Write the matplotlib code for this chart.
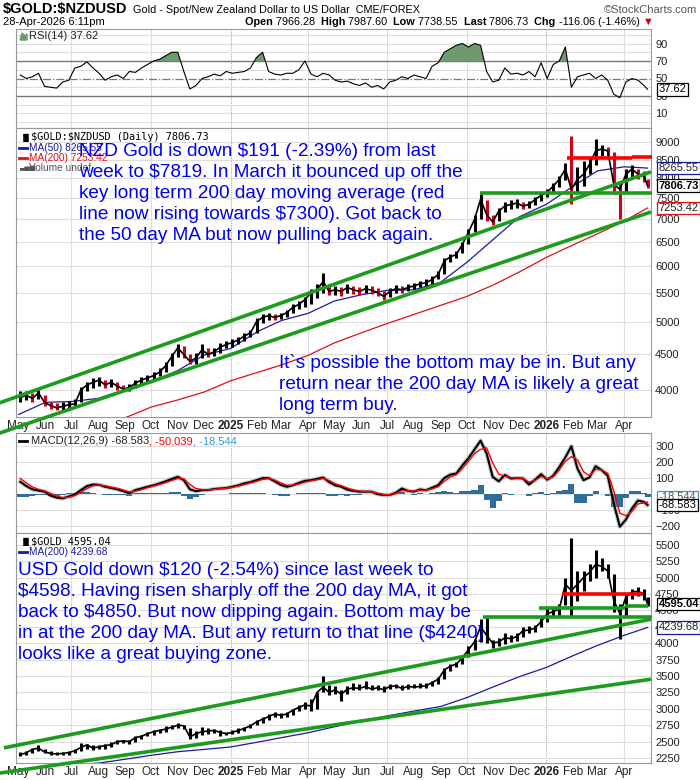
import numpy as np
import pandas as pd
import matplotlib
matplotlib.use("Agg")
import matplotlib.pyplot as plt
from matplotlib.transforms import blended_transform_factory

# ---- data (weekly bars + last session) ----
week_dates = list(pd.date_range("2024-05-03", periods=104, freq="7D")) + [pd.Timestamp("2026-04-28")]
month_dates = list(pd.date_range("2024-05-01", "2026-04-01", freq="MS")) + [pd.Timestamp("2026-04-28")]

nzd_close = [3900, 3930, 3890, 3960, 3840, 3800, 3770, 3790, 3810, 3820,
             4000, 4065, 4100, 4130, 4065, 4100, 4050, 4010, 4030, 4090,
             4130, 4160, 4190, 4240, 4330, 4460, 4590, 4490, 4390, 4440,
             4560, 4490, 4530, 4600, 4640, 4670, 4710, 4770, 4820, 5000,
             5070, 5100, 5070, 5100, 5150, 5240, 5290, 5375, 5500, 5550,
             5700, 5520, 5550, 5520, 5590, 5550, 5520, 5570, 5540, 5500,
             5430, 5520, 5570, 5550, 5590, 5620, 5660, 5680, 5740, 5835,
             6100, 6180, 6230, 6440, 6700, 6990, 7460, 7100, 6930, 7180,
             7300, 7340, 7370, 7300, 7340, 7460, 7560, 7640, 7790, 7970,
             8240, 7710, 7970, 8100, 8370, 8740, 8800, 8740, 7840, 7710,
             8100, 8240, 8100, 8040, 7806.73]
nzd_high = [3980, 3990, 3960, 4000, 3930, 3850, 3830, 3850, 3860, 3880,
            4040, 4100, 4160, 4170, 4130, 4140, 4110, 4070, 4080, 4130,
            4170, 4200, 4240, 4290, 4380, 4520, 4650, 4620, 4500, 4520,
            4650, 4580, 4580, 4660, 4690, 4720, 4760, 4820, 4870, 5060,
            5130, 5150, 5130, 5150, 5200, 5290, 5350, 5420, 5560, 5650,
            5870, 5650, 5620, 5600, 5650, 5620, 5600, 5630, 5610, 5580,
            5520, 5580, 5630, 5620, 5650, 5680, 5720, 5740, 5800, 5900,
            6150, 6240, 6300, 6500, 6780, 7100, 7590, 7450, 7100, 7250,
            7400, 7440, 7460, 7400, 7420, 7520, 7630, 7720, 7860, 8050,
            8400, 9180, 8300, 8450, 8550, 9090, 8900, 8850, 8700, 7900,
            8250, 8350, 8250, 8200, 7987.60]
nzd_low = [3850, 3870, 3850, 3880, 3800, 3760, 3740, 3750, 3770, 3780,
           3840, 3990, 4030, 4050, 4020, 4040, 4000, 3980, 3990, 4030,
           4080, 4110, 4140, 4180, 4240, 4330, 4450, 4440, 4350, 4360,
           4440, 4450, 4470, 4520, 4580, 4600, 4650, 4700, 4750, 4820,
           4980, 5030, 5020, 5040, 5080, 5150, 5220, 5250, 5300, 5400,
           5500, 5450, 5460, 5430, 5500, 5480, 5460, 5490, 5470, 5440,
           5360, 5420, 5500, 5490, 5520, 5560, 5600, 5620, 5660, 5740,
           5850, 6080, 6150, 6250, 6450, 6700, 7000, 6950, 6850, 6950,
           7150, 7220, 7260, 7220, 7250, 7330, 7430, 7520, 7620, 7760,
           7950, 7340, 7650, 7800, 8100, 8350, 8600, 8550, 7600, 6990,
           7650, 8000, 7980, 7900, 7738.55]
nzd_ma50 = [3690, 3840, 3850, 3890, 4000, 4110, 4260, 4480, 4580, 4840, 5020, 5140,
            5350, 5460, 5540, 5550, 5690, 6070, 6550, 7050, 7340, 7790, 8190, 8300, 8265.55]
nzd_ma200 = [3380, 3450, 3520, 3600, 3650, 3780, 3870, 3970, 4120, 4235, 4340, 4480,
             4665, 4820, 4970, 5120, 5275, 5430, 5640, 5885, 6170, 6430, 6665, 6950, 7253.42]

rsi = [54, 50, 52, 56, 41, 40, 39, 46, 48, 62,
       64, 69, 62, 56, 48, 52, 54, 50, 58, 57,
       62, 66, 70, 72, 76, 80, 80, 58, 38, 42,
       50, 52, 55, 53, 58, 56, 57, 58, 62, 74,
       80, 58, 55, 54, 56, 56, 60, 70, 55, 52,
       56, 54, 48, 46, 47, 44, 42, 45, 40, 42,
       38, 46, 48, 52, 50, 54, 52, 50, 64, 68,
       80, 84, 88, 90, 86, 90, 88, 58, 46, 48,
       62, 55, 56, 54, 58, 52, 68, 50, 66, 70,
       86, 40, 52, 54, 56, 50, 54, 48, 32, 28,
       46, 50, 48, 42, 37.62]

macd = [77, 50, 30, 22, 15, -10, -22, -27, -15, -2,
        25, 50, 60, 58, 46, 38, 30, 18, 5, 25,
        35, 46, 55, 67, 80, 95, 108, 87, 30, 18,
        25, 25, 32, 35, 38, 46, 55, 67, 75, 87,
        100, 100, 80, 58, 46, 55, 70, 83, 87, 95,
        104, 75, 55, 46, 28, 20, 15, 15, 15, 0,
        -6, -6, 8, 35, 20, 15, 29, 24, 40, 56,
        100, 122, 129, 180, 225, 280, 335, 254, 108, 80,
        120, 98, 100, 98, 60, 90, 125, 90, 115, 170,
        230, 300, 160, 87, 105, 175, 150, 115, -60, -204,
        -160, -90, -40, -50, -68.583]
macd_signal = [98, 70, 45, 30, 20, 5, -12, -22, -20, -10,
               10, 35, 52, 57, 52, 44, 36, 26, 14, 18,
               28, 40, 50, 60, 72, 85, 98, 96, 60, 35,
               28, 26, 30, 33, 36, 42, 50, 60, 70, 80,
               92, 98, 88, 70, 55, 55, 63, 75, 83, 90,
               98, 85, 65, 52, 38, 26, 19, 16, 15, 6,
               -2, -5, 3, 22, 22, 18, 24, 24, 33, 46,
               80, 108, 122, 160, 205, 255, 280, 290, 195, 125,
               112, 103, 100, 99, 75, 85, 110, 98, 108, 150,
               205, 235, 215, 140, 115, 155, 152, 130, 20, -120,
               -135, -110, -62, -55, -50.039]
macd_hist = [-21, -20, -15, -8, -5, -15, -10, -5, 5, 8,
             15, 15, 8, 1, -6, -6, -6, -8, -9, 7,
             7, 6, 5, 7, 8, 10, 10, -9, -30, -17,
             -3, -1, 2, 2, 2, 4, 5, 7, 5, 7,
             8, 2, -8, -12, -9, 0, 7, 8, 4, 5,
             6, -10, -10, -6, -10, -6, -4, -1, 0, -6,
             -4, -1, 5, 13, -2, -3, 5, 0, 7, 10,
             20, 14, 7, 20, 20, 25, 55, -36, -87, -45,
             8, -5, 0, -1, -15, 5, 15, -8, 7, 20,
             25, 65, -55, -53, -10, 20, -2, -15, -80, -84,
             -25, 20, 22, 5, -18.544]

usd_close = [2300, 2330, 2380, 2400, 2340, 2320, 2310, 2320, 2330, 2360,
             2410, 2450, 2400, 2420, 2440, 2450, 2500, 2510, 2500, 2560,
             2580, 2620, 2650, 2670, 2690, 2720, 2750, 2740, 2570, 2620,
             2650, 2660, 2670, 2640, 2620, 2640, 2670, 2700, 2740, 2800,
             2840, 2880, 2920, 2900, 2920, 2980, 3020, 3060, 3040, 3250,
             3330, 3250, 3290, 3220, 3300, 3320, 3310, 3340, 3300, 3320,
             3290, 3340, 3350, 3310, 3340, 3330, 3340, 3350, 3400, 3450,
             3590, 3650, 3680, 3780, 3900, 4020, 4250, 4120, 4000, 4020,
             4080, 4070, 4100, 4190, 4200, 4230, 4330, 4450, 4480, 4520,
             4900, 4800, 4900, 5000, 5080, 5200, 5170, 5100, 4650, 4450,
             4700, 4780, 4790, 4750, 4595.04]
usd_high = [2340, 2350, 2400, 2450, 2380, 2350, 2340, 2345, 2360, 2390,
            2480, 2470, 2440, 2450, 2470, 2490, 2530, 2530, 2520, 2580,
            2600, 2640, 2670, 2690, 2730, 2760, 2790, 2760, 2700, 2660,
            2720, 2700, 2690, 2670, 2650, 2670, 2700, 2720, 2770, 2830,
            2880, 2920, 2950, 2940, 2950, 3000, 3050, 3100, 3150, 3260,
            3500, 3360, 3350, 3280, 3340, 3400, 3370, 3420, 3360, 3360,
            3340, 3380, 3380, 3360, 3370, 3380, 3400, 3400, 3430, 3480,
            3620, 3680, 3720, 3810, 3950, 4070, 4370, 4380, 4050, 4080,
            4150, 4130, 4150, 4250, 4260, 4280, 4380, 4530, 4550, 4600,
            5000, 5600, 5100, 5100, 5200, 5420, 5300, 5200, 5050, 4600,
            4760, 4830, 4850, 4820, 4700]
usd_low = [2280, 2290, 2330, 2350, 2320, 2290, 2290, 2295, 2300, 2320,
           2360, 2390, 2370, 2390, 2380, 2410, 2460, 2480, 2470, 2500,
           2540, 2580, 2600, 2630, 2650, 2690, 2700, 2690, 2540, 2560,
           2600, 2620, 2630, 2590, 2600, 2610, 2630, 2660, 2700, 2750,
           2780, 2830, 2870, 2860, 2880, 2900, 2960, 2990, 2970, 3000,
           3250, 3210, 3230, 3120, 3220, 3280, 3290, 3300, 3280, 3290,
           3260, 3300, 3320, 3290, 3300, 3310, 3310, 3320, 3340, 3380,
           3450, 3580, 3630, 3680, 3790, 3900, 4020, 4000, 3930, 3950,
           3990, 4020, 4040, 4100, 4150, 4170, 4250, 4320, 4400, 4420,
           4580, 4420, 4650, 4800, 4950, 5000, 5100, 4990, 4480, 4065,
           4400, 4680, 4720, 4660, 4570]
usd_ma200 = [2080, 2120, 2150, 2170, 2230, 2290, 2345, 2380, 2417, 2490, 2560, 2635,
             2725, 2810, 2890, 2965, 3035, 3170, 3335, 3490, 3630, 3810, 3965, 4120, 4239.68]

# hand-drawn annotation lines: (start date, start price, end date, end price)
nzd_green = [("2024-04-09", 3833, "2026-05-02", 8165),
             ("2024-04-09", 3472, "2026-05-02", 7160),
             ("2025-10-16", 7610, "2026-05-03", 7610)]
nzd_red = [("2026-01-25", 8540, "2026-04-10", 8540),
           ("2026-04-10", 8560, "2026-05-03", 8560)]
usd_green = [("2024-04-14", 2404, "2026-05-02", 4366),
             ("2024-04-09", 2019, "2026-05-02", 3450),
             ("2025-10-20", 4403, "2026-05-03", 4403),
             ("2025-12-23", 4540, "2026-04-02", 4540),
             ("2026-04-02", 4560, "2026-04-28", 4560)]
usd_red = [("2026-01-19", 4745, "2026-04-23", 4745)]

nzd_note = ("NZD Gold is down $191 (-2.39%) from last\n"
            "week to $7819. In March it bounced up off the\n"
            "key long term 200 day moving average (red\n"
            "line now rising towards $7300). Got back to\n"
            "the 50 day MA but now pulling back again.")
nzd_note2 = ("It`s possible the bottom may be in. But any\n"
             "return near the 200 day MA is likely a great\n"
             "long term buy.")
usd_note = ("USD Gold down $120 (-2.54%) since last week to\n"
            "$4598. Having risen sharply off the 200 day MA, it got\n"
            "back to $4850. But now dipping again. Bottom may be\n"
            "in at the 200 day MA. But any return to that line ($4240)\n"
            "looks like a great buying zone.")

# ---- figure ----
W, H = 700, 780
plt.rcParams["font.family"] = ["Liberation Sans", "DejaVu Sans"]
plt.rcParams["text.parse_math"] = False
fig = plt.figure(figsize=(7, 7.8), dpi=100)


def box(left, top, right, bottom):
    return [left / W, 1 - bottom / H, (right - left) / W, (bottom - top) / H]


def fx(px):
    return px / W


def fy(py):
    return 1 - py / H


ax_rsi = fig.add_axes(box(16, 29, 651, 128))
ax_nzd = fig.add_axes(box(16, 128, 651, 417))
ax_macd = fig.add_axes(box(16, 433, 651, 533))
ax_usd = fig.add_axes(box(16, 533, 651, 763))
axes = [ax_rsi, ax_nzd, ax_macd, ax_usd]

xmin, xmax = pd.Timestamp("2024-04-28"), pd.Timestamp("2026-05-02")
quarters = pd.date_range("2024-07-01", "2026-04-01", freq="QS")
month_starts = pd.date_range("2024-05-01", "2026-04-01", freq="MS")
month_labels = [str(d.year) if d.month == 1 else d.strftime("%b") for d in month_starts]
GRID = "#dddddd"
GREEN = "#1c9c1c"
BLUE_TXT = "#0000ee"

for ax in axes:
    ax.set_xlim(xmin, xmax)
    ax.yaxis.tick_right()
    ax.tick_params(axis="y", length=0, pad=3, labelsize=8, labelcolor="#222222")
    for s in ax.spines.values():
        s.set_color("#999999")
        s.set_linewidth(0.8)
    for q in quarters:
        if q.month == 1:
            ax.axvline(q, color="#aaaaaa", lw=0.8, ls=(0, (1, 1)), zorder=0)
        else:
            ax.axvline(q, color=GRID, lw=0.8, zorder=0)

for ax in (ax_rsi, ax_macd):
    ax.set_xticks([])
for ax in (ax_nzd, ax_usd):
    ax.set_xticks(month_starts)
    ax.set_xticklabels(month_labels, fontsize=8.5)
    for lab, d in zip(ax.get_xticklabels(), month_starts):
        if d.month == 1:
            lab.set_fontweight("bold")
    ax.tick_params(axis="x", length=0, pad=2, colors="#222222")


def tag(ax, y, text, edge, color="black", weight="normal"):
    tr = blended_transform_factory(ax.transAxes, ax.transData)
    ax.text(1.012, y, text, transform=tr, ha="left", va="center", fontsize=8,
            color=color, fontweight=weight, clip_on=False, zorder=10,
            bbox=dict(boxstyle="square,pad=0.12", fc="white", ec=edge, lw=0.9))


def draw_lines(ax, lines, color):
    for d0, p0, d1, p1 in lines:
        ax.plot([pd.Timestamp(d0), pd.Timestamp(d1)], [p0, p1], color=color,
                lw=2.6, solid_capstyle="butt", clip_on=False, zorder=5)


def price_bars(ax, close, high, low, two_colour):
    cols = ["black"]
    for a, b in zip(close[:-1], close[1:]):
        cols.append("#d0021b" if (two_colour and b < a) else "black")
    ax.vlines(week_dates, low, high, colors=cols, lw=2.2, zorder=4)
    ax.plot(week_dates, close, color="black", lw=1.2, zorder=4)


# RSI panel
rsi_arr = np.array(rsi, dtype=float)
ax_rsi.set_ylim(-6.6, 106.6)
ax_rsi.set_yticks([10, 30, 50, 70, 90])
for v in range(0, 101, 10):
    if v in (30, 70):
        ax_rsi.axhline(v, color="#777777", lw=1.0, zorder=1)
    elif v == 50:
        ax_rsi.axhline(v, color="#777777", lw=0.9, ls="-.", zorder=1)
    else:
        ax_rsi.axhline(v, color=GRID, lw=0.8, zorder=0)
ax_rsi.fill_between(week_dates, rsi_arr, 70, where=rsi_arr > 70, interpolate=True,
                    color="#6f9a6f", zorder=2, lw=0)
ax_rsi.plot(week_dates, rsi_arr, color="black", lw=0.8, zorder=3)
tag(ax_rsi, 37.62, "37.62", "black")

# NZD price panel
ax_nzd.set_yscale("log")
ax_nzd.set_ylim(3660, 9424)
nzd_ticks = list(range(4000, 9001, 500))
ax_nzd.set_yticks(nzd_ticks)
ax_nzd.set_yticklabels([str(t) for t in nzd_ticks])
ax_nzd.yaxis.set_minor_locator(matplotlib.ticker.NullLocator())
for t in nzd_ticks:
    ax_nzd.axhline(t, color=GRID, lw=0.8, zorder=0)
ax_nzd.plot(month_dates, nzd_ma200, color="#e0101a", lw=0.9, zorder=3)
ax_nzd.plot(month_dates, nzd_ma50, color="#1a1aa0", lw=0.9, zorder=3)
price_bars(ax_nzd, nzd_close, nzd_high, nzd_low, True)
draw_lines(ax_nzd, nzd_green, GREEN)
draw_lines(ax_nzd, nzd_red, "#ff0000")
tag(ax_nzd, 8265.55, "8265.55", "#1a1aa0", color="#222222")
tag(ax_nzd, 7806.73, "7806.73", "black", weight="bold")
tag(ax_nzd, 7253.42, "7253.42", "#e0101a", color="#222222")

# MACD panel
ax_macd.set_ylim(-244, 383)
ax_macd.set_yticks([-200, -100, 100, 200, 300])
for v in (-200, -100, 0, 100, 200, 300):
    ax_macd.axhline(v, color=GRID, lw=0.8, zorder=0)
ax_macd.bar(week_dates, macd_hist, width=7, color="#2e6e98", zorder=2)
ax_macd.plot(week_dates, macd, color="#999999", lw=3.2, zorder=3, alpha=0.5)
ax_macd.plot(week_dates, macd, color="black", lw=1.5, zorder=4)
ax_macd.plot(week_dates, macd_signal, color="#ff0000", lw=1.0, zorder=5)
tag(ax_macd, -18.544, "-18.544", "#3399cc", color="#555555")
tag(ax_macd, -68.583, "-68.583", "black")

# USD price panel
ax_usd.set_ylim(2173, 5680)
usd_ticks = list(range(2250, 5501, 250))
ax_usd.set_yticks(usd_ticks)
for t in usd_ticks:
    ax_usd.axhline(t, color=GRID, lw=0.8, zorder=0)
ax_usd.plot(month_dates, usd_ma200, color="#1a1aa0", lw=0.9, zorder=3)
price_bars(ax_usd, usd_close, usd_high, usd_low, False)
draw_lines(ax_usd, usd_green, GREEN)
draw_lines(ax_usd, usd_red, "#ff0000")
tag(ax_usd, 4595.04, "4595.04", "black", weight="bold")
tag(ax_usd, 4239.68, "4239.68", "#1a1aa0", color="#222222")

# ---- header ----
renderer = fig.canvas.get_renderer()


def run(x, y, parts, size=8.5, family=("Liberation Sans",)):
    for text, weight, color in parts:
        t = fig.text(fx(x), fy(y), text, fontsize=size, fontweight=weight, color=color,
                     family=list(family), va="center", ha="left")
        bb = t.get_window_extent(renderer=renderer)
        x += bb.width


run(3, 9, [("$GOLD:$NZDUSD", "bold", "black")], size=10.5)
run(133, 10, [("Gold - Spot/New Zealand Dollar to US Dollar  CME/FOREX", "normal", "black")], size=7.8)
fig.text(fx(697), fy(10), "\u00a9StockCharts.com", fontsize=8, color="#555555",
         ha="right", va="center")
run(3, 22, [("28-Apr-2026 6:11pm", "normal", "black")], size=8)
run(245, 22, [("Open ", "bold", "black"), ("7966.28  ", "normal", "black"),
              ("High ", "bold", "black"), ("7987.60  ", "normal", "black"),
              ("Low ", "bold", "black"), ("7738.55  ", "normal", "black"),
              ("Last ", "bold", "black"), ("7806.73  ", "normal", "black"),
              ("Chg ", "bold", "black"), ("-116.06 (-1.46%) ", "normal", "black"),
              ("\u25bc", "normal", "#cc0000")], size=7.8)

# ---- legends ----
def legend_line(x, y, color):
    fig.add_artist(plt.Line2D([fx(x), fx(x + 8)], [fy(y), fy(y)], color=color, lw=2))


fig.add_artist(plt.Polygon([[fx(20), fy(40)], [fx(22), fy(33)], [fx(25), fy(36)],
                            [fx(27), fy(34)], [fx(27), fy(40)]], color="#6f9a6f"))
fig.text(fx(29), fy(36), "RSI(14) 37.62", fontsize=8, va="center", color="#222222")

fig.text(fx(20), fy(137), "\u2590\u258c", fontsize=6, va="center", family="DejaVu Sans")
fig.text(fx(31), fy(137), "$GOLD:$NZDUSD (Daily) 7806.73", fontsize=7.4, va="center",
         family="DejaVu Sans Mono")
legend_line(19, 148, "#1a1aa0")
fig.text(fx(29), fy(148), "MA(50) 8265.55", fontsize=7.3, va="center", color="#1a1aa0")
legend_line(19, 158, "#e0101a")
fig.text(fx(29), fy(158), "MA(200) 7253.42", fontsize=7.3, va="center", color="#e0101a")
fig.text(fx(19), fy(168), "\u2583\u2585\u2586", fontsize=5, va="center", color="#555555",
         family="DejaVu Sans")
fig.text(fx(29), fy(168), "Volume undef", fontsize=7.3, va="center", color="#555555")

legend_line(19, 441, "black")
run(31, 441, [("MACD(12,26,9) -68.583", "normal", "#222222"), (", -50.039", "normal", "#ff0000"),
              (", -18.544", "normal", "#3399cc")], size=8)

fig.text(fx(20), fy(541), "\u2590\u258c", fontsize=6, va="center", family="DejaVu Sans")
fig.text(fx(31), fy(541), "$GOLD 4595.04", fontsize=7.4, va="center", family="DejaVu Sans Mono")
legend_line(19, 552, "#1a1aa0")
fig.text(fx(29), fy(552), "MA(200) 4239.68", fontsize=7.3, va="center", color="#1a1aa0")

# ---- commentary ----
note_kw = dict(fontsize=13.7, color=BLUE_TXT, ha="left", va="top", linespacing=1.3,
               family="Liberation Sans", zorder=20)
fig.text(fx(79), fy(143.5), nzd_note, **note_kw)
fig.text(fx(279), fy(354.5), nzd_note2, **note_kw)
fig.text(fx(18), fy(562), usd_note, **note_kw)

fig.savefig("out.png", dpi=100)
